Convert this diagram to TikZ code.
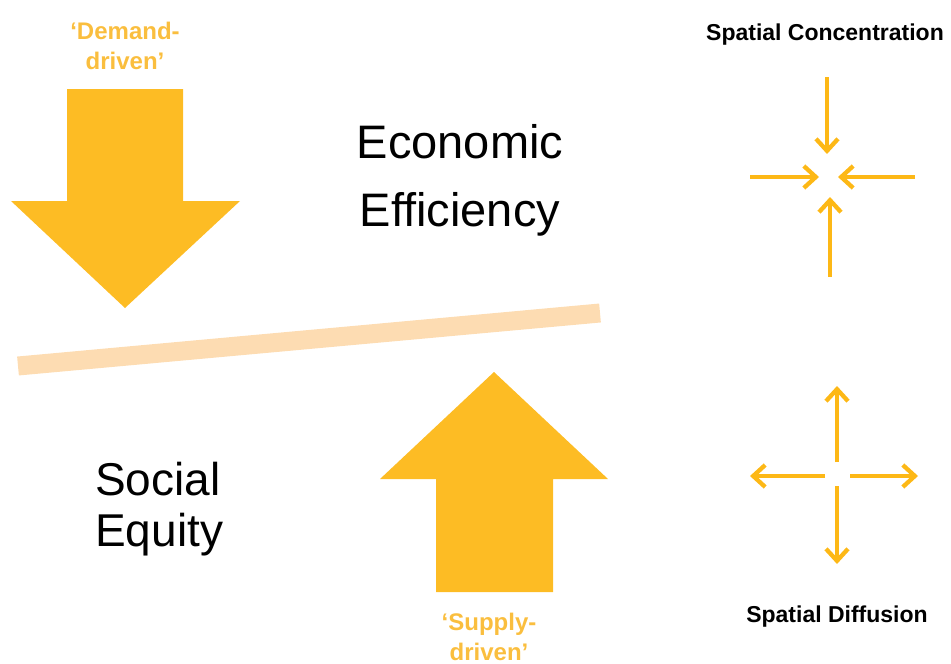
\documentclass[tikz,border=0pt]{standalone}
\usepackage{fontspec}
\setmainfont{Liberation Sans}
\usetikzlibrary{arrows.meta}
\definecolor{arrowfill}{RGB}{253,188,36}
\definecolor{labelorange}{RGB}{250,190,62}
\definecolor{smallarrow}{RGB}{253,184,22}
\definecolor{band}{RGB}{253,220,178}
\tikzset{
  bigarrow/.style={fill=arrowfill, draw=none},
  drivelabel/.style={text=labelorange, font=\bfseries\fontsize{24}{30}\selectfont, align=center, inner sep=0pt, anchor=north},
  mainlabel/.style={text=black, font=\fontsize{47}{68}\selectfont, inner sep=0pt, anchor=north},
  spatiallabel/.style={text=black, font=\bfseries\fontsize{23}{26}\selectfont, inner sep=0pt, anchor=base},
  thinarrow/.style={draw=smallarrow, line width=4.3pt, -{Straight Barb[length=12pt,width=22pt,line width=4.3pt]}},
  bandline/.style={draw=band, line width=19pt}
}
\begin{document}
\begin{tikzpicture}[x=1pt,y=-1pt]
\useasboundingbox (0,0) rectangle (951,664);
% separating band
\coordinate (bandL) at (18,366);
\coordinate (bandR) at (600,313);
\draw[bandline] (bandL) -- (bandR);
% demand-driven arrow
\path[bigarrow] (67,89) -- (183,89) -- (183,201) -- (240,201) -- (125,308) -- (11,201) -- (67,201) -- cycle;
\node[drivelabel] (demand) at (125,22) {‘Demand-\\driven’};
% supply-driven arrow
\path[bigarrow] (436,592) -- (553,592) -- (553,479) -- (608,479) -- (494,372) -- (380,479) -- (436,479) -- cycle;
\node[drivelabel] (supply) at (489,613) {‘Supply-\\driven’};
% main labels
\node[mainlabel, align=center] (econ) at (460,124) {Economic\\Efficiency};
\node[mainlabel, align=left, font=\fontsize{46}{51}\selectfont, anchor=north west] (social) at (95,462) {Social\\Equity};
% spatial concentration
\node[spatiallabel] (conc) at (825,40) {Spatial Concentration};
\coordinate (cT0) at (827,77);  \coordinate (cT1) at (827,154);
\coordinate (cL0) at (750,177); \coordinate (cL1) at (819,177);
\coordinate (cR0) at (915,177); \coordinate (cR1) at (838,177);
\coordinate (cB0) at (830,277); \coordinate (cB1) at (830,197);
\draw[thinarrow] (cT0) -- (cT1);
\draw[thinarrow] (cL0) -- (cL1);
\draw[thinarrow] (cR0) -- (cR1);
\draw[thinarrow] (cB0) -- (cB1);
% spatial diffusion
\coordinate (dU0) at (837,462); \coordinate (dU1) at (837,386);
\coordinate (dL0) at (825,476); \coordinate (dL1) at (750,476);
\coordinate (dR0) at (850,476); \coordinate (dR1) at (918,476);
\coordinate (dD0) at (837,486); \coordinate (dD1) at (837,564);
\draw[thinarrow] (dU0) -- (dU1);
\draw[thinarrow] (dL0) -- (dL1);
\draw[thinarrow] (dR0) -- (dR1);
\draw[thinarrow] (dD0) -- (dD1);
\node[spatiallabel] (diff) at (837,622) {Spatial Diffusion};
\end{tikzpicture}
\end{document}
